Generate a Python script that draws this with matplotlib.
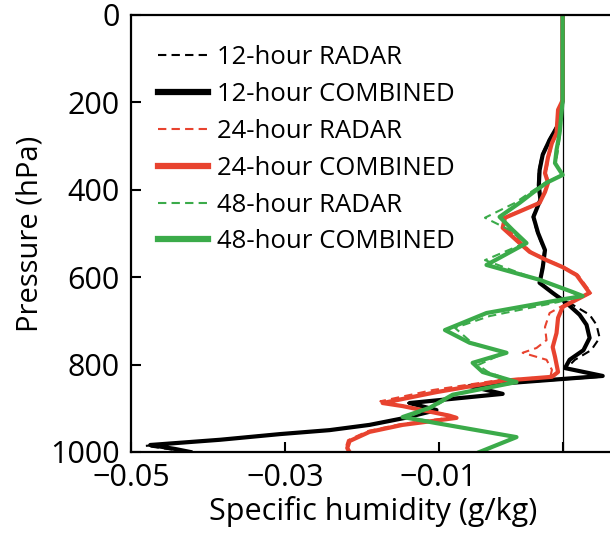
import matplotlib
matplotlib.use('Agg')
import matplotlib.pyplot as plt

plt.rcParams['font.family'] = ['Open Sans', 'DejaVu Sans']

# specific humidity difference (g/kg) vs pressure (hPa)
p_12_comb = [0, 195, 252, 286, 320, 355, 389, 423, 462, 499, 538, 579, 613, 636, 659, 686, 709, 739, 767, 789, 808, 826, 849, 867, 888, 904, 922, 938, 950, 959, 972, 984, 993, 1000]
q_12_comb = [0.0061, 0.0061, 0.0055, 0.0044, 0.0035, 0.0031, 0.0030, 0.0032, 0.0023, 0.0029, 0.0038, 0.0035, 0.0031, 0.0048, 0.0066, 0.0083, 0.0092, 0.0096, 0.0088, 0.0070, 0.0064, 0.0113, -0.0060, -0.0017, -0.0138, -0.0103, -0.0144, -0.0190, -0.0242, -0.0306, -0.0384, -0.0475, -0.0443, -0.0423]

p_12_radar = [0, 195, 252, 286, 320, 355, 389, 423, 462, 499, 538, 579, 613, 636, 659, 686, 709, 739, 767, 789, 808, 828, 849, 867, 888, 904, 922, 938, 950, 959, 972, 986, 998, 1000]
q_12_radar = [0.0061, 0.0061, 0.0054, 0.0043, 0.0034, 0.0030, 0.0029, 0.0031, 0.0022, 0.0028, 0.0037, 0.0034, 0.0030, 0.0048, 0.0070, 0.0096, 0.0105, 0.0109, 0.0098, 0.0077, 0.0066, 0.0111, -0.0060, -0.0017, -0.0140, -0.0105, -0.0146, -0.0192, -0.0245, -0.0310, -0.0388, -0.0481, -0.0432, -0.0420]

p_24_comb = [0, 195, 217, 270, 293, 325, 362, 384, 405, 430, 464, 487, 522, 542, 561, 577, 595, 636, 668, 693, 728, 760, 782, 817, 828, 837, 863, 888, 895, 917, 922, 938, 954, 975, 991, 1000]
q_24_comb = [0.0061, 0.0061, 0.0055, 0.0053, 0.0047, 0.0042, 0.0038, 0.0042, 0.0038, 0.0031, -0.0014, -0.0017, 0.0005, 0.0018, 0.0040, 0.0061, 0.0079, 0.0096, 0.0061, 0.0055, 0.0053, 0.0048, 0.0051, 0.0055, 0.0047, -0.0017, -0.0103, -0.0173, -0.0147, -0.0086, -0.0077, -0.0147, -0.0190, -0.0216, -0.0219, -0.0216]

p_24_radar = [0, 195, 217, 270, 293, 325, 362, 384, 405, 430, 464, 487, 522, 542, 561, 577, 595, 636, 668, 682, 714, 744, 762, 773, 789, 812, 828, 835, 858, 884, 893, 915, 920, 936, 952, 973, 990, 1000]
q_24_radar = [0.0061, 0.0061, 0.0056, 0.0054, 0.0048, 0.0043, 0.0039, 0.0043, 0.0038, 0.0030, -0.0017, -0.0012, 0.0008, 0.0020, 0.0042, 0.0063, 0.0081, 0.0098, 0.0058, 0.0044, 0.0038, 0.0040, 0.0027, 0.0009, 0.0040, 0.0047, 0.0045, -0.0020, -0.0107, -0.0176, -0.0150, -0.0088, -0.0079, -0.0149, -0.0192, -0.0218, -0.0221, -0.0218]

p_48_comb = [0, 195, 270, 309, 339, 366, 384, 407, 430, 462, 492, 522, 572, 606, 634, 643, 652, 682, 721, 750, 773, 796, 817, 840, 869, 899, 920, 934, 966, 1000]
q_48_comb = [0.0061, 0.0061, 0.0057, 0.0053, 0.0051, 0.0061, 0.0040, 0.0022, 0.0005, -0.0021, -0.0004, 0.0014, -0.0038, 0.0031, 0.0074, 0.0087, 0.0057, -0.0038, -0.0092, -0.0060, -0.0012, -0.0056, -0.0043, 0.0001, -0.0082, -0.0112, -0.0147, -0.0103, 0.0001, -0.0047]

p_48_radar = [0, 195, 270, 309, 339, 366, 384, 407, 430, 464, 492, 522, 561, 606, 634, 643, 657, 689, 716, 750, 773, 801, 817, 840, 869, 899, 920, 934, 966, 1000]
q_48_radar = [0.0061, 0.0061, 0.0058, 0.0055, 0.0052, 0.0060, 0.0038, 0.0018, -0.0001, -0.0040, -0.0008, 0.0012, -0.0040, 0.0029, 0.0072, 0.0083, 0.0055, -0.0034, -0.0079, -0.0057, -0.0014, -0.0049, -0.0036, -0.0001, -0.0079, -0.0109, -0.0140, -0.0099, -0.0001, -0.0044]

ref_line = 0.0061
x_ticks = [-0.05, -0.03, -0.01, ref_line]
x_tick_labels = ['\u22120.05', '\u22120.03', '\u22120.01', '']
y_ticks = [0, 200, 400, 600, 800, 1000]

black = 'black'
red = '#e8432f'
green = '#3bab4a'

fig = plt.figure(figsize=(6.1, 5.33), dpi=100)
ax = fig.add_axes([0.2148, 0.152, 0.7934, 0.8199])

ax.axvline(ref_line, color='black', lw=0.9, zorder=1)

dash = (4, 2.5)
ax.plot(q_12_radar, p_12_radar, color=black, lw=1.5, ls='--', dashes=dash, label='12-hour RADAR')
ax.plot(q_12_comb, p_12_comb, color=black, lw=3, label='12-hour COMBINED')
ax.plot(q_24_radar, p_24_radar, color=red, lw=1.5, ls='--', dashes=dash, label='24-hour RADAR')
ax.plot(q_24_comb, p_24_comb, color=red, lw=3, label='24-hour COMBINED')
ax.plot(q_48_radar, p_48_radar, color=green, lw=1.5, ls='--', dashes=dash, label='48-hour RADAR')
ax.plot(q_48_comb, p_48_comb, color=green, lw=3, label='48-hour COMBINED')

ax.set_xlim(-0.05, 0.0129)
ax.set_ylim(1000, 0)
ax.set_xticks(x_ticks)
ax.set_xticklabels(x_tick_labels)
ax.set_yticks(y_ticks)
ax.tick_params(direction='in', length=7, width=1.5, labelsize=22, pad=8)

for s in ax.spines.values():
    s.set_linewidth(1.6)

ax.set_xlabel('Specific humidity (g/kg)', fontsize=22, labelpad=2)
ax.set_ylabel('Pressure (hPa)', fontsize=21, labelpad=4)

leg = ax.legend(loc='upper left', frameon=False, fontsize=18.5, handlelength=1.95,
                handletextpad=0.35, labelspacing=0.46, borderaxespad=0.2,
                bbox_to_anchor=(0.024, 0.966))
for h in leg.get_lines():
    if h.get_linestyle() == '-':
        h.set_linewidth(4.5)

fig.savefig('out.png', dpi=100)
